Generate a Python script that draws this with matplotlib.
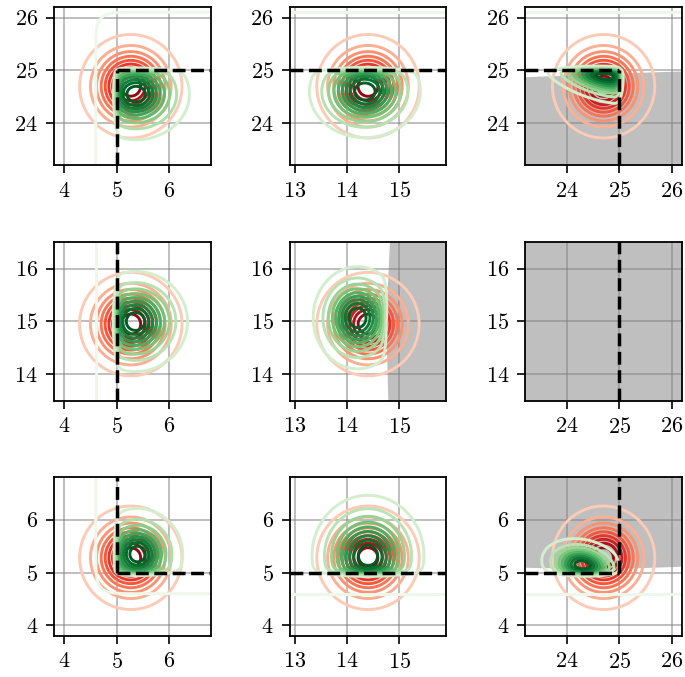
import numpy as np
import matplotlib.pyplot as plt
from matplotlib.colors import ListedColormap

plt.rcParams['font.family'] = 'cmr10'
plt.rcParams['font.size'] = 16
plt.rcParams['axes.formatter.use_mathtext'] = True

# axes setup per column (x) and row (y)
x_lims = [(3.8, 6.8), (12.9, 15.9), (23.2, 26.2)]
y_lims = [(23.2, 26.2), (13.5, 16.5), (3.8, 6.8)]
x_ticks = [[4, 5, 6], [13, 14, 15], [24, 25, 26]]
y_ticks = [[24, 25, 26], [14, 15, 16], [4, 5, 6]]

# thresholds (value, side): side +1 keeps values above, -1 keeps values below
x_thr = [(5.0, 1), None, (25.0, -1)]
y_thr = [(25.0, -1), None, (5.0, 1)]

# red distribution (means per column / row, common spread)
red_mx = [5.27, 14.4, 24.7]
red_my = [24.7, 14.95, 5.28]
red_sd = 0.4

# green distribution per panel [row][col]
green_mx = [[5.37, 14.34, 24.68], [5.36, 14.2, None], [5.4, 14.4, 24.3]]
green_my = [[24.55, 24.6, 24.95], [15.0, 15.07, None], [5.35, 5.32, 5.12]]
green_sx = [[0.45, 0.45, 0.5], [0.42, 0.36, None], [0.38, 0.45, 0.33]]
green_sy = [[0.38, 0.37, 0.25], [0.4, 0.41, None], [0.38, 0.48, 0.22]]
green_rho = [[0.0, 0.0, -0.45], [0.0, 0.0, None], [0.0, 0.0, -0.2]]

# faint outer green edges
x_bg = [(4.6, 1), None, None]
y_bg = [(26.1, -1), None, (4.6, 1)]

# gray regions
gray02_x = [23.2, 24.7, 26.2]
gray02_y = [24.88, 24.94, 24.99]
gray11_y = [13.5, 15.0, 16.5]
gray11_x = [14.78, 14.74, 14.81]
gray22_x = [23.2, 24.7, 26.2]
gray22_y = [5.10, 5.07, 5.12]
gray_col = '#bfbfbf'

props = np.linspace(0.05, 1, 10)

reds = ListedColormap(plt.cm.Reds(np.linspace(0.2, 1.0, 256)))
greens = ListedColormap(plt.cm.Greens(np.linspace(0.2, 1.0, 256)))


def gauss2(X, Y, mx, my, sx, sy, rho):
    u = (X - mx) / sx
    v = (Y - my) / sy
    q = (u * u - 2 * rho * u * v + v * v) / (2 * (1 - rho ** 2))
    return np.exp(-q) / (sx * sy * np.sqrt(1 - rho ** 2))


def step(d, w):
    return 1.0 / (1.0 + np.exp(-np.clip(d / w, -60, 60)))


def iso_levels(z):
    zs = np.sort(z.ravel())
    c = np.cumsum(zs)
    c /= c[-1]
    return np.interp(props, c, zs)


fig, axes = plt.subplots(3, 3, figsize=(6.85, 6.77), dpi=100)
fig.subplots_adjust(left=0.0788, right=0.9956, bottom=0.0606, top=0.9897,
                    wspace=0.503, hspace=0.484)

for i in range(3):
    for j in range(3):
        ax = axes[i, j]
        x0, x1 = x_lims[j]
        y0, y1 = y_lims[i]
        xs = np.linspace(x0 - 1.5, x1 + 1.5, 320)
        ys = np.linspace(y0 - 1.5, y1 + 1.5, 320)
        X, Y = np.meshgrid(xs, ys)

        # gray regions
        if i == 0 and j == 2:
            ax.fill_between(gray02_x, y0 - 1, gray02_y, color=gray_col, lw=0, zorder=1)
        if i == 1 and j == 1:
            ax.fill_betweenx(gray11_y, gray11_x, x1 + 1, color=gray_col, lw=0, zorder=1)
        if i == 2 and j == 2:
            ax.fill_between(gray22_x, gray22_y, y1 + 1, color=gray_col, lw=0, zorder=1)
        if i == 1 and j == 2:
            ax.fill_between([x0 - 1, x1 + 1], y0 - 1, y1 + 1, color=gray_col, lw=0, zorder=1)

        if green_mx[i][j] is not None:
            # red
            zr = gauss2(X, Y, red_mx[j], red_my[i], red_sd, red_sd, 0.0)
            ax.contour(X, Y, zr, levels=iso_levels(zr), cmap=reds,
                       linewidths=2.1, zorder=2)

            # green
            mx, my = green_mx[i][j], green_my[i][j]
            sx, sy, rho = green_sx[i][j], green_sy[i][j], green_rho[i][j]
            zg = gauss2(X, Y, mx, my, sx, sy, rho)
            if x_thr[j] is not None:
                zg *= step(x_thr[j][1] * (X - x_thr[j][0]), 0.03)
            if y_thr[i] is not None:
                zg *= step(y_thr[i][1] * (Y - y_thr[i][0]), 0.03)
            if i == 1 and j == 1:
                zg *= step(np.interp(Y, gray11_y, gray11_x) - 0.03 - X, 0.03)
            ax.contour(X, Y, zg, levels=iso_levels(zg), cmap=greens,
                       linewidths=2.1, zorder=3)

            # faint outer edge
            bg = np.ones_like(X)
            if x_bg[j] is not None:
                bg *= step(x_bg[j][1] * (X - x_bg[j][0]), 0.12)
            if y_bg[i] is not None:
                bg *= step(y_bg[i][1] * (Y - y_bg[i][0]), 0.12)
            if bg.min() < 0.5:
                ax.contour(X, Y, bg, levels=[0.5], colors=[plt.cm.Greens(0.07)],
                           linewidths=2.1, zorder=2.5)

        # dashed thresholds
        if x_thr[j] is not None:
            tx = x_thr[j][0]
            if y_thr[i] is None:
                ya, yb = y0, y1
            elif y_thr[i][1] < 0:
                ya, yb = y0, y_thr[i][0]
            else:
                ya, yb = y_thr[i][0], y1
            ax.plot([tx, tx], [ya, yb], 'k--', lw=2.5, zorder=4)
        if y_thr[i] is not None:
            ty = y_thr[i][0]
            if x_thr[j] is None:
                xa, xb = x0, x1
            elif x_thr[j][1] > 0:
                xa, xb = x_thr[j][0], x1
            else:
                xa, xb = x0, x_thr[j][0]
            ax.plot([xa, xb], [ty, ty], 'k--', lw=2.5, zorder=4)

        ax.set_xlim(x0, x1)
        ax.set_ylim(y0, y1)
        ax.set_xticks(x_ticks[j])
        ax.set_yticks(y_ticks[i])
        ax.grid(True, color='#808080', alpha=0.6, lw=1.2, zorder=1.5)
        ax.tick_params(length=5.5, width=1.2, labelsize=16, pad=6)
        for s in ax.spines.values():
            s.set_linewidth(1.3)
            s.set_zorder(5)

fig.savefig('out.png', dpi=100)
